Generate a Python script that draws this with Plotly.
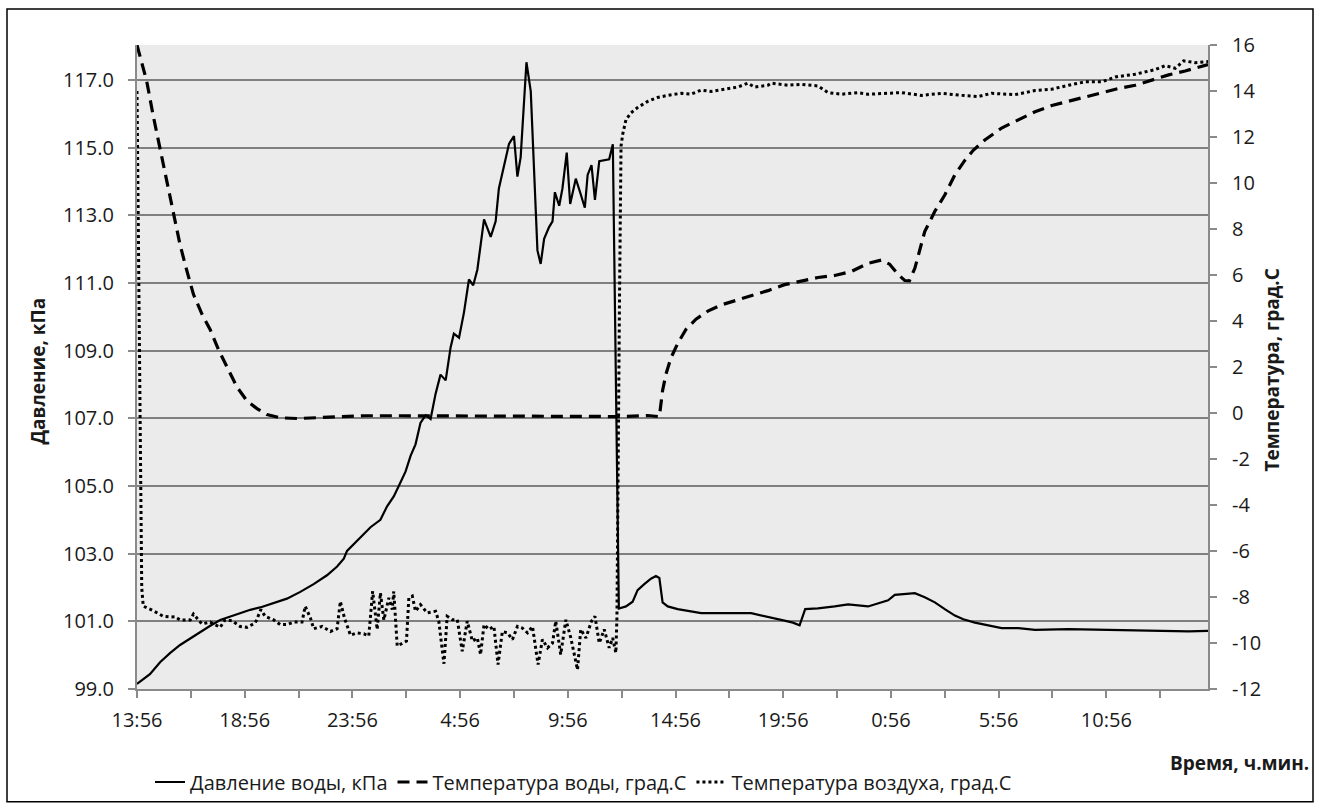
import plotly.graph_objects as go

# ---------------- data (time in hours since 13:56) ----------------
t_pressure = [0.00, 0.60, 1.07, 1.53, 2.00, 2.47, 2.93, 3.40, 3.86, 4.33, 4.79, 5.26, 5.72, 6.34,
              6.96, 7.58, 8.20, 8.82, 9.29, 9.60, 9.75, 10.84, 11.30, 11.61, 11.92, 12.23, 12.47,
              12.70, 12.93, 13.16, 13.40, 13.63, 13.86, 14.09, 14.33, 14.56, 14.71, 14.95, 15.18,
              15.41, 15.61, 15.80, 16.11, 16.42, 16.65, 16.80, 17.04, 17.27, 17.50, 17.66, 17.81,
              18.08, 18.28, 18.59, 18.74, 18.90, 19.13, 19.29, 19.40, 19.60, 19.75, 19.95, 20.11,
              20.37, 20.57, 20.79, 20.92, 21.10, 21.26, 21.46, 21.92, 22.09, 22.37, 22.70, 23.01,
              23.24, 23.55, 23.86, 24.09, 24.25, 24.40, 24.64, 25.10, 25.72, 26.19, 28.51, 28.98,
              29.60, 30.06, 30.45, 30.76, 31.02, 31.61, 32.39, 33.01, 33.94, 34.40, 34.87, 35.18,
              36.11, 36.57, 37.04, 37.50, 37.97, 38.36, 38.90, 39.52, 40.14, 40.92, 41.69, 43.24,
              44.79, 46.34, 47.27, 48.82, 49.72]
pressure = [99.15, 99.44, 99.79, 100.06, 100.30, 100.50, 100.69, 100.87, 101.04, 101.14, 101.24,
            101.34, 101.41, 101.53, 101.67, 101.87, 102.10, 102.36, 102.62, 102.85, 103.08, 103.78,
            104.00, 104.40, 104.69, 105.10, 105.43, 105.89, 106.23, 106.86, 107.09, 106.98, 107.72,
            108.29, 108.12, 109.10, 109.50, 109.38, 110.13, 111.10, 110.93, 111.39, 112.88, 112.36,
            112.82, 113.79, 114.48, 115.11, 115.34, 114.14, 114.71, 117.52, 116.66, 111.96, 111.56,
            112.30, 112.65, 112.82, 113.68, 113.28, 113.79, 114.85, 113.33, 114.08, 113.68, 113.22,
            114.19, 114.48, 113.45, 114.60, 114.65, 115.10, 101.38, 101.44, 101.58, 101.92, 102.10,
            102.26, 102.34, 102.28, 101.56, 101.44, 101.36, 101.30, 101.24, 101.24, 101.18, 101.08,
            101.02, 100.96, 100.88, 101.36, 101.38, 101.44, 101.50, 101.44, 101.54, 101.62, 101.78,
            101.83, 101.71, 101.56, 101.36, 101.17, 101.06, 100.96, 100.88, 100.80, 100.80, 100.75,
            100.77, 100.75, 100.74, 100.72, 100.70, 100.72]

t_water = [0.00, 0.45, 0.76, 1.07, 1.38, 1.69, 2.00, 2.31, 2.62, 3.01, 3.40, 3.78, 4.17, 4.64,
           5.10, 5.57, 6.03, 6.65, 7.43, 8.36, 9.29, 10.53, 12.23, 14.56, 16.88, 19.21, 21.53,
           22.47, 23.71, 24.25, 24.40, 24.56, 24.79, 25.10, 25.49, 25.95, 26.50, 27.12, 27.74,
           28.51, 29.29, 30.06, 30.84, 31.61, 32.39, 33.16, 33.94, 34.56, 34.94, 35.33, 35.64,
           35.86, 36.11, 36.57, 37.04, 37.50, 37.97, 38.43, 38.82, 39.36, 40.14, 40.92, 41.69,
           42.47, 43.24, 44.02, 44.79, 45.57, 46.34, 47.12, 47.89, 48.66, 49.72]
water_temp = [16.0, 14.43, 12.89, 11.51, 10.14, 8.68, 7.31, 6.20, 5.16, 4.31, 3.62, 2.76, 1.99,
              1.13, 0.53, 0.19, -0.07, -0.21, -0.24, -0.21, -0.16, -0.12, -0.12, -0.12, -0.12,
              -0.13, -0.15, -0.16, -0.11, -0.16, 0.98, 1.70, 2.40, 3.02, 3.64, 4.08, 4.43, 4.70,
              4.88, 5.09, 5.32, 5.58, 5.73, 5.89, 5.98, 6.15, 6.51, 6.65, 6.47, 6.03, 5.76, 5.75,
              6.29, 7.89, 8.77, 9.48, 10.36, 10.98, 11.42, 11.87, 12.39, 12.75, 13.10, 13.37,
              13.55, 13.72, 13.90, 14.11, 14.25, 14.47, 14.70, 14.87, 15.15]

t_air = [0.00, 0.22, 0.29, 0.76, 1.22, 1.53, 1.77, 2.00, 2.47, 2.62, 3.01, 3.40, 3.86, 4.09,
         4.40, 4.79, 5.10, 5.49, 5.75, 5.95, 6.34, 6.65, 6.96, 7.27, 7.66, 7.81, 8.05, 8.20,
         8.59, 8.98, 9.29, 9.44, 9.63, 9.91, 10.22, 10.53, 10.76, 10.94, 11.15, 11.30, 11.46,
         11.69, 11.85, 11.92, 12.08, 12.31, 12.51, 12.62, 12.78, 12.93, 13.16, 13.47, 13.86,
         14.01, 14.25, 14.40, 14.64, 14.87, 15.10, 15.33, 15.57, 15.80, 15.95, 16.11, 16.34,
         16.57, 16.76, 16.96, 17.20, 17.43, 17.66, 17.89, 18.13, 18.36, 18.62, 18.82, 19.06,
         19.29, 19.44, 19.67, 19.91, 20.14, 20.45, 20.60, 20.84, 21.10, 21.26, 21.46, 21.69,
         21.92, 22.08, 22.23, 22.28, 22.40, 22.47, 22.55, 22.70, 22.93, 23.24, 23.71, 24.17,
         24.64, 25.26, 25.72, 26.19, 26.65, 27.27, 27.89, 28.36, 28.67, 29.29, 29.44, 30.22,
         30.84, 31.61, 32.08, 32.70, 33.47, 33.94, 34.71, 35.49, 36.42, 37.35, 38.28, 39.06,
         39.67, 40.76, 41.69, 42.47, 43.24, 44.02, 44.79, 45.41, 46.34, 47.27, 47.73, 48.20,
         48.59, 49.13, 49.72]
air_temp = [14.0, -7.6, -8.4, -8.6, -8.84, -8.87, -8.86, -9.0, -9.0, -8.74, -9.17, -9.09, -9.32,
            -8.99, -9.03, -9.28, -9.32, -9.13, -8.55, -8.84, -8.99, -9.2, -9.2, -9.09, -9.09,
            -8.4, -8.91, -9.38, -9.28, -9.5, -9.38, -8.19, -8.91, -9.66, -9.56, -9.6, -9.7,
            -7.75, -9.41, -7.82, -9.0, -8.04, -8.55, -7.75, -10.13, -10.03, -9.92, -8.04, -7.96,
            -8.62, -8.33, -8.69, -8.62, -9.05, -10.9, -8.84, -8.99, -8.99, -10.36, -9.05, -9.92,
            -9.78, -10.5, -9.2, -9.41, -9.28, -10.94, -9.5, -9.56, -9.85, -9.28, -9.35, -9.56,
            -9.28, -10.94, -9.85, -10.21, -10.0, -9.05, -10.5, -8.99, -9.78, -11.16, -9.41,
            -9.78, -9.05, -8.84, -10.0, -9.41, -10.21, -9.78, -10.43, -8.9, 5.0, 11.6, 12.13,
            12.75, 13.05, 13.28, 13.55, 13.72, 13.81, 13.90, 13.86, 14.04, 13.98, 14.08, 14.17,
            14.34, 14.17, 14.25, 14.34, 14.25, 14.29, 14.22, 13.93, 13.86, 13.93, 13.86, 13.90,
            13.93, 13.81, 13.90, 13.81, 13.76, 13.90, 13.84, 14.02, 14.08, 14.25, 14.40, 14.40,
            14.61, 14.73, 14.93, 15.10, 14.99, 15.31, 15.23, 15.28]

x_tick_hours = [0, 2.5, 5, 7.5, 10, 12.5, 15, 17.5, 20, 22.5, 25, 27.5, 30, 32.5, 35, 37.5,
                40, 42.5, 45, 47.5]
x_tick_labels = ["13:56", "", "18:56", "", "23:56", "", "4:56", "", "9:56", "", "14:56", "",
                 "19:56", "", "0:56", "", "5:56", "", "10:56", ""]
temp_tick_vals = [-12, -10, -8, -6, -4, -2, 0, 2, 4, 6, 8, 10, 12, 14, 16]
temp_tick_labels = ["-12", "-10", "-8", "-6", "-4", "-2", "0", "2", "4", "6", "8", "10", "12",
                    "14", "16"]

series_names = ["Давление воды, кПа", "Температура воды, град.С", "Температура воздуха, град.С"]

# ---------------- layout geometry (pixels) ----------------
W, H = 1322, 812
L, R, T, B = 137, 1208, 45, 690
pw, ph = R - L, B - T


def px(x):
    return (x - L) / pw


def py(y):
    return (B - y) / ph


FONT = "Open Sans"
GRID = "#7f7f7f"
AXIS = "#8a8a8a"
TXT = "#1a1a1a"
FS = 20

fig = go.Figure()
fig.add_trace(go.Scatter(x=t_pressure, y=pressure, name=series_names[0], mode="lines",
                         line=dict(color="black", width=2.2)))
fig.add_trace(go.Scatter(x=t_water, y=water_temp, name=series_names[1], mode="lines",
                         yaxis="y2", line=dict(color="black", width=3.2, dash="12px,7px")))
fig.add_trace(go.Scatter(x=t_air, y=air_temp, name=series_names[2], mode="lines",
                         yaxis="y2", line=dict(color="black", width=3, dash="3px,3px")))

fig.update_layout(
    width=W, height=H,
    margin=dict(l=L, r=W - R, t=T, b=H - B, pad=0),
    paper_bgcolor="white", plot_bgcolor="#ebebeb",
    font=dict(family=FONT, size=FS, color=TXT),
    showlegend=True,
    legend=dict(orientation="h", x=px(150), xanchor="left", y=py(782), yanchor="middle",
                font=dict(size=FS, color=TXT), bgcolor="rgba(0,0,0,0)",
                traceorder="normal"),
    xaxis=dict(range=[0, 49.72], tickmode="array", tickvals=x_tick_hours, ticktext=x_tick_labels,
               ticks="outside", ticklen=7, tickwidth=1.5, tickcolor=AXIS, showline=True,
               linecolor=AXIS, linewidth=2, showgrid=False, zeroline=False,
               ticklabelstandoff=5, tickfont=dict(size=FS)),
    yaxis=dict(range=[99, 118.03], tick0=99, dtick=2, tickformat=".1f", ticks="outside",
               ticklen=7, tickwidth=1.5, tickcolor=AXIS, showline=True, linecolor=AXIS,
               linewidth=2, showgrid=True, gridcolor=GRID, gridwidth=2, zeroline=False,
               ticklabelstandoff=10, tickfont=dict(size=FS)),
    yaxis2=dict(range=[-12, 16], tickmode="array", tickvals=temp_tick_vals,
                ticktext=temp_tick_labels, overlaying="y", side="right",
                ticks="outside", ticklen=7, tickwidth=1.5, tickcolor=AXIS, showline=True,
                linecolor=AXIS, linewidth=2, showgrid=False, zeroline=False,
                ticklabelstandoff=11, tickfont=dict(size=FS)),
    annotations=[
        dict(text="<b>Давление, кПа</b>", xref="paper", yref="paper", x=px(38), y=py(372),
             textangle=-90, xanchor="center", yanchor="middle", showarrow=False,
             font=dict(size=19, color=TXT)),
        dict(text="<b>Температура, град.С</b>", xref="paper", yref="paper", x=px(1272),
             y=py(371), textangle=-90, xanchor="center", yanchor="middle", showarrow=False,
             font=dict(size=19, color=TXT)),
        dict(text="<b>Время, ч.мин.</b>", xref="paper", yref="paper", x=px(1311), y=py(764),
             xanchor="right", yanchor="middle", showarrow=False,
             font=dict(size=19, color=TXT)),
    ],
    shapes=[
        dict(type="rect", xref="paper", yref="paper", x0=px(7), x1=px(1313), y0=py(803),
             y1=py(9), line=dict(color="black", width=1.5), fillcolor="rgba(0,0,0,0)",
             layer="below"),
    ],
)

fig.write_html("out.html")
